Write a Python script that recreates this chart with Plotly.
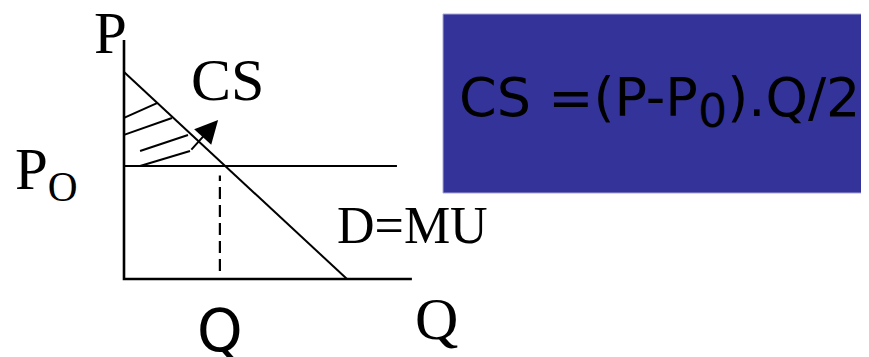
import plotly.graph_objects as go

# ---- data (economic units) ----
demand_q = [0.0, 10.0]
demand_p = [10.0, 0.0]
p_axis_top = 11.55
q_axis_end = 12.91
p0_price = 5.46
p0_line_end = 12.24
q_dashed = 4.30
dashed_p = [0.39, 5.0]

hatch_q_start = [0.0, 0.0, 0.72, 0.72]
hatch_p_start = [7.78, 6.96, 6.18, 5.46]
hatch_q_end = [1.48, 2.15, 2.87, 2.96]
hatch_p_end = [8.50, 7.78, 6.96, 6.18]
arrow_tip_q = 4.22
arrow_tip_p = 7.68

formula = "CS =(P-P<sub><span style='font-size:46px'>0</span></sub>).Q/2"

# ---- layout scale (page body adds an 8px offset) ----
OFF = 8
W, H = 869 - OFF, 357 - OFF
ox, oy = 124 - OFF, 279 - OFF   # pixel origin inside figure
sx, sy = 22.3, 20.7             # pixels per unit

fig = go.Figure()
black = "#000000"

# axes
fig.add_trace(go.Scatter(x=[0, 0, q_axis_end], y=[p_axis_top, 0, 0], mode="lines",
                         line=dict(color=black, width=2.6), hoverinfo="skip"))
# demand
fig.add_trace(go.Scatter(x=demand_q, y=demand_p, mode="lines",
                         line=dict(color=black, width=2), hoverinfo="skip"))
# P0 line
fig.add_trace(go.Scatter(x=[0, p0_line_end], y=[p0_price, p0_price], mode="lines",
                         line=dict(color=black, width=2.2), hoverinfo="skip"))
# dashed line
fig.add_trace(go.Scatter(x=[q_dashed, q_dashed], y=dashed_p, mode="lines",
                         line=dict(color=black, width=2.2, dash="12px,6px"), hoverinfo="skip"))
# hatch
for a, b, c, d in zip(hatch_q_start, hatch_p_start, hatch_q_end, hatch_p_end):
    fig.add_trace(go.Scatter(x=[a, c], y=[b, d], mode="lines",
                             line=dict(color=black, width=2), hoverinfo="skip"))

fig.add_annotation(x=arrow_tip_q, y=arrow_tip_p, ax=hatch_q_end[-1], ay=hatch_p_end[-1],
                   xref="x", yref="y", axref="x", ayref="y", text="", showarrow=True,
                   arrowhead=2, arrowsize=2.3, arrowwidth=2, arrowcolor=black,
                   standoff=0, startstandoff=0)


def px(x):
    return (x - OFF) / W


def py(y):
    return 1 - (y - OFF) / H


serif = "Liberation Serif"
sans = "DejaVu Sans"


def label(text, x, y, size, family, color=black):
    fig.add_annotation(x=px(x), y=py(y), xref="paper", yref="paper", text=text,
                       showarrow=False, xanchor="center", yanchor="middle",
                       font=dict(family=family, size=size, color=color))


label("P", 110, 33, 59, serif)
label("P<sub>O</sub>", 46, 173, 59, serif)
label("CS", 227, 80, 60, serif)
label("D=MU", 412, 225, 52, serif)
label("Q", 436, 319, 60, serif)
label("Q", 220, 331, 58, sans)

fig.add_shape(type="rect", xref="paper", yref="paper",
              x0=px(443), x1=px(869), y0=py(193), y1=py(14),
              fillcolor="#333399", line=dict(color="#a8a8d8", width=1), layer="below")
label(formula, 659, 102, 54, sans)

fig.update_layout(
    width=W, height=H, margin=dict(l=0, r=0, t=0, b=0),
    paper_bgcolor="white", plot_bgcolor="white", showlegend=False,
    xaxis=dict(range=[-ox / sx, (W - ox) / sx], visible=False, fixedrange=True),
    yaxis=dict(range=[(oy - H) / sy, oy / sy], visible=False, fixedrange=True),
)

fig.write_html("out.html")
